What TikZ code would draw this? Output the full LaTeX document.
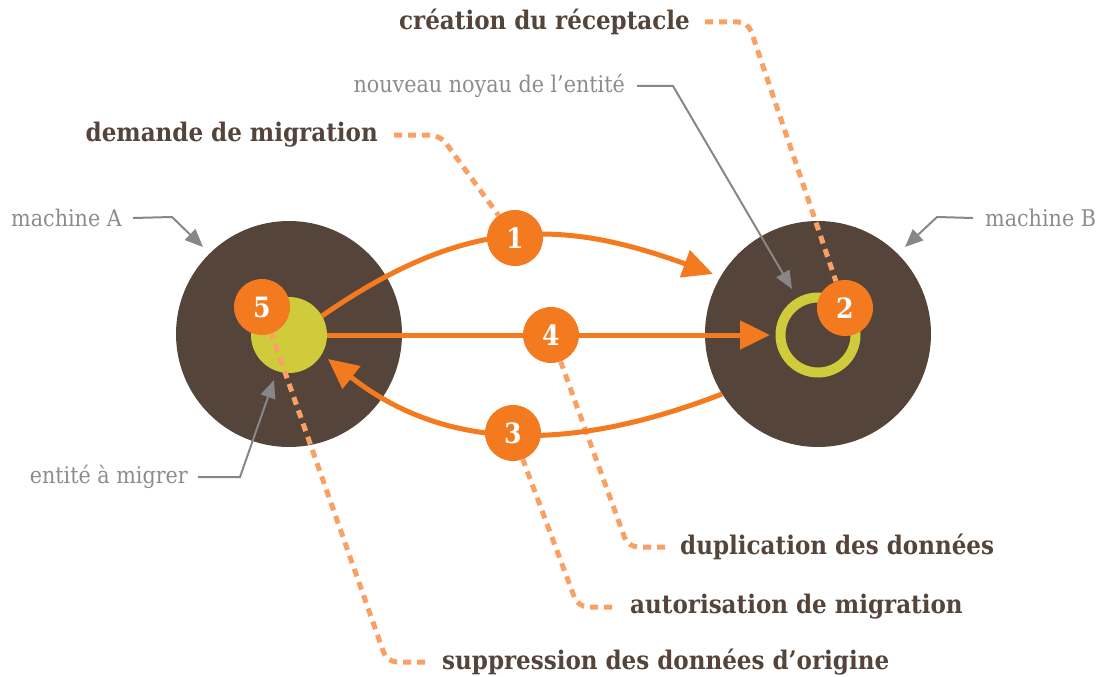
\documentclass[tikz,border=0pt]{standalone}
\usepackage{fontspec}
\setmainfont{DejaVu Serif Condensed}
\usetikzlibrary{arrows.meta}
\usetikzlibrary{positioning}

\definecolor{brun}{HTML}{54443A}
\definecolor{jaune}{HTML}{D0CB3B}
\definecolor{orangevif}{HTML}{F47A20}
\definecolor{orangeclair}{HTML}{F9A065}
\definecolor{gris}{HTML}{878787}
\definecolor{gristexte}{HTML}{8C8C8C}

\pgfdeclarelayer{fond}
\pgfdeclarelayer{liens}
\pgfsetlayers{fond,liens,main}

\begin{document}
\begin{tikzpicture}[x=1pt, y=-1pt,
  machine/.style={circle, fill=brun, minimum size=226pt, inner sep=0pt},
  entite/.style={circle, fill=jaune, minimum size=76pt, inner sep=0pt},
  noyau/.style={circle, draw=jaune, line width=10pt, minimum size=75pt, inner sep=0pt},
  etape/.style={circle, fill=orangevif, text=white, minimum size=56pt, inner sep=0pt,
    font=\bfseries\fontsize{28}{28}\selectfont},
  titre/.style={text=brun, inner sep=0pt, font=\bfseries\fontsize{25.6}{30}\selectfont},
  legende/.style={text=gristexte, inner sep=0pt, font=\fontsize{23}{27}\selectfont},
  fleche/.style={draw=orangevif, line width=5pt, -{Triangle[length=30pt, width=28pt]}},
  repere/.style={draw=gris, line width=2pt, -{Triangle[length=18pt, width=15pt]}},
  guide/.style={draw=orangeclair, line width=5pt, dash pattern=on 8pt off 6pt,
    rounded corners=10pt}]
  \useasboundingbox (0,0) rectangle (1104,677);

  % machines et entités
  \begin{pgfonlayer}{fond}
    \node[machine] (machA) at (289,334) {};
    \node[machine] (machB) at (818,334) {};
    \node[entite] (ent) at (289,335) {};
    \node[noyau] (noy) at (818,335) {};
  \end{pgfonlayer}

  % étapes
  \node[etape] (n1) at (515,238) {1};
  \node[etape] (n2) at (845,308) {2};
  \node[etape] (n3) at (513,433) {3};
  \node[etape] (n4) at (551,335) {4};
  \node[etape] (n5) at (262,307) {5};

  % titres des étapes
  \node[titre, anchor=east] (tdem)  at (378,135) {demande de migration};
  \node[titre, anchor=east] (tcrea) at (690,22)  {création du réceptacle};
  \node[titre, anchor=west] (tdup)  at (680,547) {duplication des données};
  \node[titre, anchor=west] (taut)  at (630,607) {autorisation de migration};
  \node[titre, anchor=west] (tsup)  at (442,662) {suppression des données d’origine};

  % légendes
  \node[legende, anchor=east] (lA)   at (122,218) {machine A};
  \node[legende, anchor=west] (lB)   at (985,218) {machine B};
  \node[legende, anchor=east] (lnoy) at (625,86)  {nouveau noyau de l’entité};
  \node[legende, anchor=east] (lent) at (188,477) {entité à migrer};

  % bouts des flèches
  \coordinate (pA) at (203,247);
  \coordinate (pB) at (905,247);
  \coordinate (pnoy) at (792,289);
  \coordinate (pent) at (274,380);
  \coordinate (p1) at (713,274);
  \coordinate (p3) at (328,359);
  \coordinate (p4) at (770,335);

  \begin{pgfonlayer}{liens}
    % pointillés
    \draw[guide] ([xshift=16pt]tdem.east) -- (440,135) -- (n1);
    \draw[guide] ([xshift=15pt]tcrea.east) -- (748,22) -- (n2);
    \draw[guide] ([xshift=-15pt]tdup.west) -- (628,547) -- (n4);
    \draw[guide] ([xshift=-18pt]taut.west) -- (578,607) -- (n3);
    \draw[guide] ([xshift=-17pt]tsup.west) -- (387,662) -- (n5);

    % flèches orange
    \draw[fleche] (ent.30) .. controls (466,216) and (562,219) .. (p1);
    \draw[fleche] (ent.east) -- (p4);
    \draw[fleche] (machB.212) .. controls (572,452) and (446,452) .. (p3);

    % flèches grises
    \draw[repere] ([xshift=11pt]lA.east) -- (172,217) -- (pA);
    \draw[repere] ([xshift=-12pt]lB.west) -- (937,217) -- (pB);
    \draw[repere] ([xshift=12pt]lnoy.east) -- (673,86) -- (pnoy);
    \draw[repere] ([xshift=10pt]lent.east) -- (240,477) -- (pent);
  \end{pgfonlayer}
\end{tikzpicture}
\end{document}
